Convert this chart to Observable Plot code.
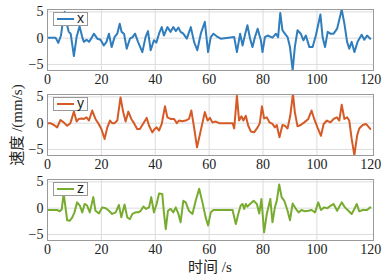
<!DOCTYPE html>
<html><head><meta charset="utf-8">
<script src="https://cdn.jsdelivr.net/npm/d3@7"></script>
<script src="https://cdn.jsdelivr.net/npm/@observablehq/plot@0.6"></script>
<style>
body{margin:0;background:#fff;}
#c{position:relative;width:392px;height:275px;font-family:"Liberation Serif","Times New Roman",serif;}
#c svg text{font-family:"Liberation Serif","Times New Roman","DejaVu Serif",serif !important;font-size:14px;}
.panel{position:absolute;left:0;}
.leg{position:absolute;background:#fff;border:1px solid #999;box-sizing:border-box;width:35px;height:14px;font-family:"Liberation Sans",Arial,sans-serif;font-size:14px;line-height:12px;}
.leg i{position:absolute;left:3px;top:5px;width:17px;height:2px;}
.leg span{position:absolute;left:23px;top:-1px;color:#222;}
.lab{position:absolute;font-family:"Liberation Serif","Times New Roman","Noto Sans CJK SC",serif;font-size:15px;color:#222;white-space:nowrap;}
</style></head>
<body><div id="c"></div>
<script>
// time (s) and velocity (mm/s)
const tX = [0,3,4,5,5.5,6.4,7.3,7.9,8.6,9.8,10.8,11.9,12.9,13.5,14.5,15.4,16.2,17.2,18.5,19.7,20.9,21.9,22.8,23.8,24.9,25.9,26.8,27.5,28.4,29.4,30.6,31.6,32.5,33.6,35.2,36.4,37.3,38.3,39.5,40.4,41.4,42.4,43.2,44.5,45.7,46.7,47.6,48.6,49.4,50.4,51.7,53.2,54.4,55.6,56.9,58.4,59.6,60.6,61.6,62.8,64.3,69.3,70.3,71.5,72.4,73.4,74.2,75.2,76.1,77,78,79.2,79.8,80.7,81.7,83.5,84.8,85.6,86.4,87.2,88.1,89.1,90,91,91.8,92.8,94,95,95.9,97.2,98.4,99.6,101.3,102.1,103,104,105,106.2,107.5,109.2,110.2,111.2,112,112.9,113.9,115.1,116.6,117.6,118.6,119.8];
const vX = [0.1,0.1,-0.9,0.5,2.4,5.0,2.4,1.2,0.85,-3.4,0.2,2.25,0.2,-0.7,-0.3,-0.7,-0.1,0.85,-0.1,-0.3,-1.4,-0.7,0.85,-1.7,0.2,0.85,2.75,1.2,0.85,-2.0,-0.1,0.2,0.85,-0.7,-2.65,0.2,1.35,-2.3,-0.4,-0.85,0.85,2.1,0.5,2.1,1.2,2.1,1.35,2.0,1.2,0.85,-0.1,2.1,-0.7,-2.3,0.85,3.1,-2.65,0.2,0.85,0.35,-0.1,0.2,-2.65,0.85,-1.4,0.85,2.45,-0.1,-1.7,0.2,1.8,-0.4,-2.65,0.2,0.5,0.1,0.85,0.2,4.8,1.5,0.85,0.2,-1.7,-6.1,-1.7,1.5,0.85,-0.4,0.5,-1.7,-1.7,0.5,4.5,0.2,-1.7,1.2,0.85,0.85,1.8,5.45,2.75,-0.7,-2.0,-0.7,-2.65,-0.7,0.65,-0.3,0.5,-0.1];

const tY = [0,1.1,2.4,3.6,4.8,6,7.3,8.5,9.8,10.8,11.6,12.6,13.5,14.5,15.4,16.6,17.8,19,20,21.2,22.2,23.2,24,24.9,25.9,27.1,28.1,29,30,31.1,32.1,33.3,34.3,35.2,36.8,37.7,38.9,39.8,40.5,41.4,42.4,43.6,44.5,45.7,47,48,48.8,50,51.3,52.5,53.4,54.4,55.5,58.4,59.4,60.3,61.2,62.5,63.7,68.7,69.3,70.3,71.1,72,72.7,73.6,74.5,75.5,76.7,78,78.8,79.6,80.4,81.4,82.4,83.5,84.4,85.1,86.1,87.2,88.1,89.1,90.1,91.1,91.8,92.8,94,95.3,96.8,98,99,100.2,101.5,102.5,103.7,105,106.2,107.4,108.3,109.2,110.2,111.2,112,112.9,113.9,114.9,115.7,117,118.2,119.8];
const vY = [0,0,-0.35,-0.8,0.6,0.15,-0.5,0,2.2,0.3,0.8,0.9,0.8,1.1,0.5,2.4,0.8,-0.15,-1.1,-3.0,-0.8,0.5,0,0,0.5,4.9,2.1,0.3,2.2,0.8,0,-1.1,-1.1,-0.35,1.0,-0.5,-1.75,-1.1,-0.8,-1.4,-0.15,3.2,1.1,0.8,0.8,0,0.5,0.35,0.5,0.8,2.4,-0.8,-4.6,2.1,0.5,1.0,0.15,0.3,0,0,-1.0,5.2,0.5,1.3,0.5,1.4,-0.5,-1.6,-1.75,-0.8,0,3.2,0.9,1.1,0.15,-0.15,-0.8,-0.35,-2.7,-0.35,-0.5,-1.0,1.4,5.6,2.1,-0.6,-0.35,0.15,0.8,2.4,0.8,-0.8,-2.4,-0.15,0.5,0.15,0.8,1.1,0.5,3.5,0.8,1.1,0.5,-3.0,-6.1,-2.4,-1.0,-0.35,-0.15,-1.1];

const tZ = [0,3.6,4.6,5.3,6,7.3,8.3,9.2,10,11,12,12.9,13.8,14.7,15.7,17,17.8,19.1,20.3,21.6,22.8,24,25.3,26.5,27.4,28.6,29.6,30.6,31.5,32.7,33.7,34.6,35.6,36.6,37.7,38.5,39.5,40.5,41.4,42.6,43.2,43.9,44.7,45.7,46.7,47.6,48.6,49.4,50.4,51.3,52.5,53.8,55,56.3,57.5,58.7,59.6,60.6,61.6,68.7,69.3,69.9,70.8,71.7,72.4,73,73.6,74.2,75.2,76.5,77.7,78.6,79.4,80.4,81.4,82.7,83.5,84.4,85.1,86,86.9,87.9,89.1,90,91,92.2,93.2,94.3,95.5,96.8,98,99.3,100.5,101.5,102.7,103.9,105.2,106.2,107.5,109.2,110.4,111.4,112.9,113.9,114.8,115.7,117,118.6,119.8];
const vZ = [-0.35,-0.35,-0.6,-0.2,2.8,-2.3,-2.4,-1.75,-0.8,1.1,0.5,-0.8,0.8,0.5,-0.8,2.1,-0.5,-1.0,0.15,0,-0.5,-1.1,-0.8,0.6,-1.75,0.7,-1.75,-2.1,-1.1,-0.8,-0.8,-0.5,0.3,-0.15,0.15,2.1,-0.8,0.8,2.8,2.7,-0.8,-4.0,-0.5,-0.15,-0.8,0.15,-1.1,-2.7,1.4,1.1,-0.5,-1.1,1.4,3.7,1.1,-1.75,-3.3,-0.8,-0.35,-0.35,-1.75,-3.0,-1.1,0.5,0.8,-0.15,0.8,0.3,0.8,1.4,0.8,-1.0,1.75,-4.6,-1.1,1.75,-2.7,0.15,1.4,4.5,2.1,1.4,-0.5,-2.3,0.9,-0.15,-0.8,-0.35,-0.6,-0.5,-0.35,-0.8,1.1,-0.35,0.15,0,0.5,0.8,-0.5,1.1,0.15,-0.35,-1.1,-0.15,0.8,-0.6,-0.35,-0.35,0.15];

const xTicks = [0,20,40,60,80,100,120];
const yTicks = [-5,0,5];
const names = ["x","y","z"];
const xLabel = "时间 /s";
const yLabel = "速度 /(mm/s)";

const panels = [
  {name: names[0], t: tX, v: vX, color: "#2f7dbd"},
  {name: names[1], t: tY, v: vY, color: "#d65a26"},
  {name: names[2], t: tZ, v: vZ, color: "#77ac30"}
];

const serif = "Liberation Serif";
const root = document.getElementById("c");
panels.forEach((p, i) => {
  const last = i === panels.length - 1;
  const h = last ? 105 : 85;
  const svg = Plot.plot({
    width: 392, height: h,
    marginTop: 9, marginBottom: h - 70, marginLeft: 47, marginRight: 19,
    style: {fontFamily: serif, fontSize: "14px", color: "#222", overflow: "visible", background: "transparent"},
    x: {domain: [0, 121], ticks: xTicks},
    y: {domain: [-6.15, 5.45], ticks: yTicks},
    marks: [
      Plot.gridX(xTicks.slice(1, -1), {stroke: "#dcdcdc", strokeOpacity: 1}),
      Plot.gridY(yTicks, {stroke: "#dcdcdc", strokeOpacity: 1}),
      Plot.line(p.t, {x: p.t, y: p.v, stroke: p.color, strokeWidth: 2, clip: true}),
      Plot.frame({stroke: "#9a9a9a"}),
      Plot.axisX(xTicks, {tickSize: 0, tickPadding: 4, label: null, fill: "#222", fontFamily: serif, fontSize: 14}),
      Plot.axisY(yTicks, {tickSize: 0, tickPadding: 4, label: null, fill: "#222", fontFamily: serif, fontSize: 14})
    ]
  });
  const wrap = document.createElement("div");
  wrap.className = "panel";
  wrap.style.top = (i * 85) + "px";
  wrap.appendChild(svg);
  root.appendChild(wrap);

  const leg = document.createElement("div");
  leg.className = "leg";
  leg.style.left = "53px";
  leg.style.top = (i * 85 + 12) + "px";
  const sw = document.createElement("i");
  sw.style.background = p.color;
  const tx = document.createElement("span");
  tx.textContent = p.name;
  leg.appendChild(sw); leg.appendChild(tx);
  root.appendChild(leg);
});

const xl = document.createElement("div");
xl.className = "lab";
xl.textContent = xLabel;
xl.style.left = "210px"; xl.style.top = "255px";
xl.style.transform = "translateX(-50%)";
root.appendChild(xl);

const yl = document.createElement("div");
yl.className = "lab";
yl.textContent = yLabel;
yl.style.left = "15px"; yl.style.top = "125px";
yl.style.transform = "translate(-50%,-50%) rotate(-90deg)";
root.appendChild(yl);
</script></body></html>
